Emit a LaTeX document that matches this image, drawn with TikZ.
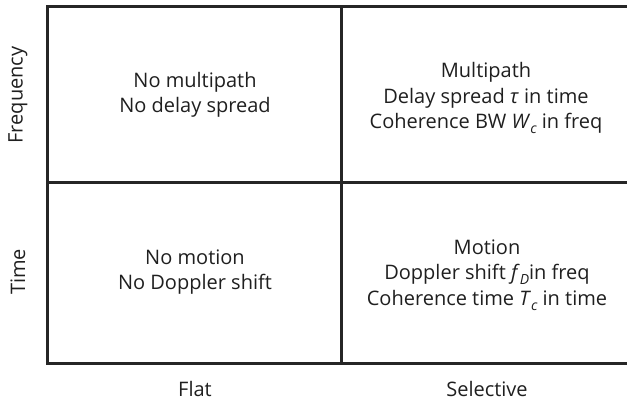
\documentclass[tikz,border=0pt]{standalone}
\usepackage{fontspec}
\setmainfont{Open Sans}
\newcommand\lowsub[1]{\raisebox{-0.45ex}{\fontsize{14}{14}\selectfont\itshape #1}}
\begin{document}
\begin{tikzpicture}[x=1pt,y=-1pt,
  gridline/.style={line width=3pt,draw=black!85},
  celltext/.style={align=center,font=\fontsize{20}{25.5}\selectfont,text=black!88,inner sep=0pt},
  axislabel/.style={font=\fontsize{20}{25}\selectfont,text=black!88,inner sep=0pt}]
\useasboundingbox (0,0) rectangle (627,401);
% grid
\draw[gridline] (640,7) -- (47,7) -- (47,363) -- (640,363);
\draw[gridline] (47,183) -- (640,183);
\draw[gridline] (341,7) -- (341,363);
% cell texts
\node[celltext] (tl) at (195,95) {No multipath\\No delay spread};
\node[celltext] (tr) at (486,98) {Multipath\\Delay spread \textit{τ} in time\\Coherence BW \textit{W}\lowsub{c} in freq};
\node[celltext] (bl) at (195,272) {No motion\\No Doppler shift};
\node[celltext] (br) at (487,275) {Motion\\Doppler shift \textit{f}\lowsub{D}in freq\\Coherence time \textit{T}\lowsub{c} in time};
% axis labels
\node[axislabel,rotate=90] (freq) at (18,95) {Frequency};
\node[axislabel,rotate=90] (time) at (18,272) {Time};
\node[axislabel] (flat) at (195,389) {Flat};
\node[axislabel] (sel) at (487,389) {Selective};
\end{tikzpicture}
\end{document}
